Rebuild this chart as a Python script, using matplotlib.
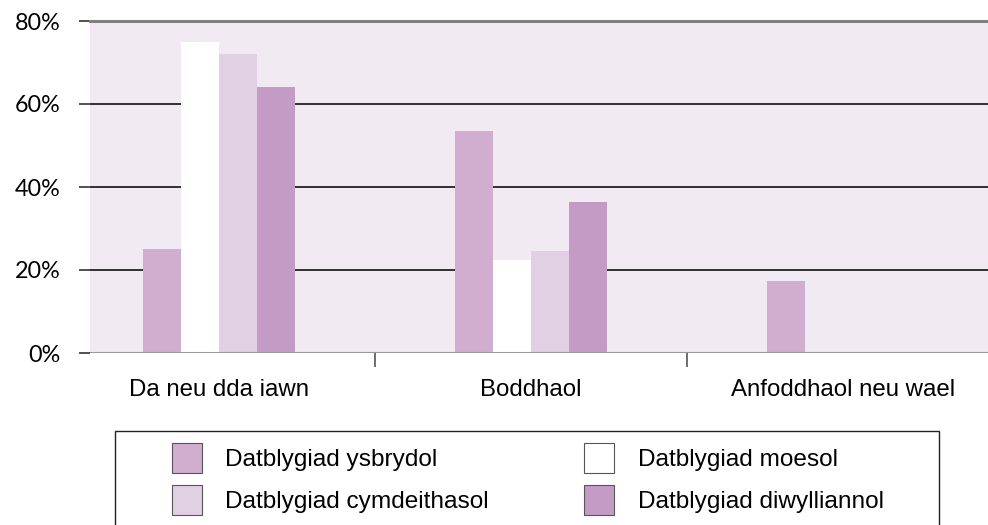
"""Bar chart of development ratings (Welsh labels)."""

import matplotlib
matplotlib.use("Agg")
import matplotlib.pyplot as plt
from matplotlib.patches import Rectangle
import numpy as np

categories = ["Da neu dda iawn", "Boddhaol", "Anfoddhaol neu wael"]
series_names = ["Datblygiad ysbrydol", "Datblygiad moesol",
                "Datblygiad cymdeithasol", "Datblygiad diwylliannol"]
ysbrydol = [25, 53.5, 17.3]
moesol = [75, 22.4, 0]
cymdeithasol = [72, 24.6, 0]
diwylliannol = [64, 36.4, 0]
yticks = [0, 20, 40, 60, 80]
ytick_labels = ["0%", "20%", "40%", "60%", "80%"]

colours = ["#d1aecf", "#ffffff", "#e1cfe3", "#c49bc5"]
BG = "#f1eaf2"
W, H = 988, 525


def px(x0, y0, x1, y1):
    # pixel box (top-left origin) -> figure fraction rect
    return [x0 / W, 1 - y1 / H, (x1 - x0) / W, (y1 - y0) / H]


fig = plt.figure(figsize=(W / 100, H / 100), dpi=100)
ax = fig.add_axes(px(90, 21, 988, 353))
ax.set_facecolor(BG)

x = np.arange(len(categories))
width = 0.1218
values = [ysbrydol, moesol, cymdeithasol, diwylliannol]
bars = []
for i, (vals, col) in enumerate(zip(values, colours)):
    b = ax.bar(x + (i - 1.5) * width, vals, width, color=col,
               label=series_names[i], zorder=2)
    bars.append(b)

ax.set_xlim(-0.413, 2.465)
ax.set_ylim(0, 80)
ax.set_yticks(yticks)
ax.set_yticklabels(ytick_labels, family="Lato", fontsize=16.8)
ax.tick_params(axis="y", length=8, width=1.2, color="#333333", pad=13)

ax.set_xticks([0.5, 1.5])
ax.set_xticklabels([])
ax.tick_params(axis="x", which="major", length=10, width=1.2, color="#555555")
ax.set_xticks(x, minor=True)
ax.set_xticklabels(categories, minor=True, family="Liberation Sans", fontsize=17.3)
ax.tick_params(axis="x", which="minor", length=0, pad=19)

for y in [20, 40, 60]:
    ax.axhline(y, color="#111111", lw=1.2, zorder=1)
ax.axhline(80, color="#808080", lw=2.2, zorder=3, clip_on=False)
ax.axhline(0, color="#999999", lw=1.5, zorder=3)

for s in ax.spines.values():
    s.set_visible(False)

# legend frame (runs past the bottom edge like the reference)
fig.patches.append(Rectangle((115 / W, 1 - 540 / H), (939 - 115) / W, (540 - 431) / H,
                             transform=fig.transFigure, fill=False,
                             edgecolor="#222222", lw=1.0))

handles = [bars[0], bars[2], bars[1], bars[3]]
labels = [series_names[0], series_names[2], series_names[1], series_names[3]]
leg = fig.legend(handles, labels, ncol=2, loc="upper left",
                 bbox_to_anchor=(172 / W, 1 - 443 / H), frameon=False,
                 prop={"family": "Liberation Sans", "size": 17.6},
                 handlelength=1.23, handleheight=1.52, handletextpad=0.95,
                 labelspacing=0.49, columnspacing=3.9, borderpad=0, borderaxespad=0)
for p in leg.get_patches():
    p.set_edgecolor("#555555")
    p.set_linewidth(0.8)

plt.savefig("out.png", dpi=100)
